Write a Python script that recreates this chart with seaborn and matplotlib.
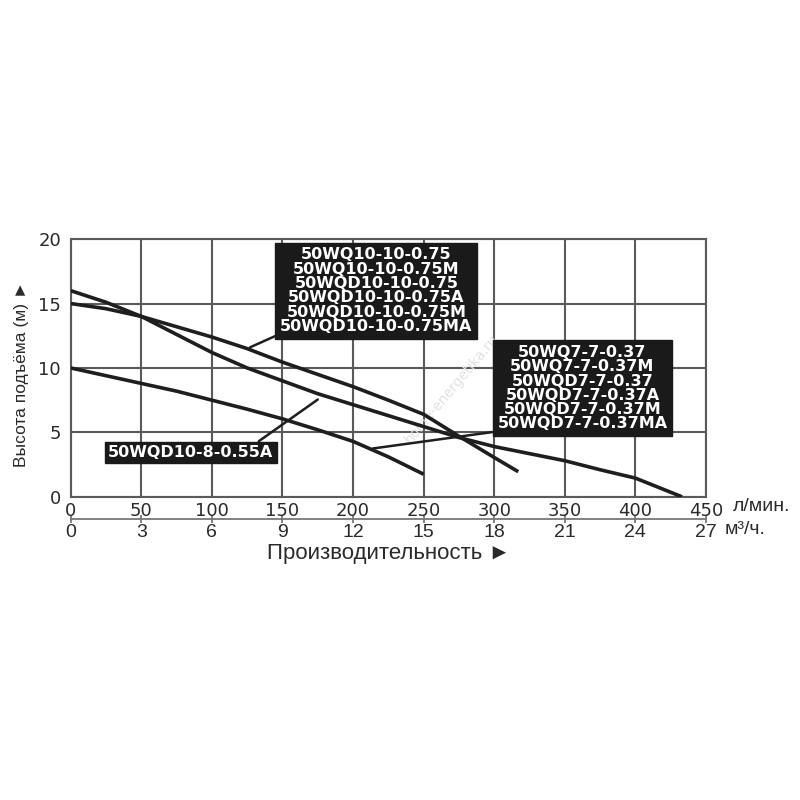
import matplotlib
matplotlib.use("Agg")
import matplotlib.pyplot as plt
from matplotlib import font_manager
import seaborn as sns
import pandas as pd

# flow in l/min, head in m
flow_a = [0, 25, 50, 75, 100, 125, 150, 175, 200, 225, 250, 275, 300, 317]
head_a = [15.0, 14.6, 14.0, 13.2, 12.4, 11.5, 10.45, 9.5, 8.55, 7.5, 6.4, 4.7, 3.05, 1.95]

flow_b = [0, 25, 50, 75, 100, 125, 150, 175, 200, 225, 250, 275, 300, 325, 350, 375, 400, 433]
head_b = [16.0, 15.1, 14.0, 12.6, 11.2, 10.0, 9.0, 8.0, 7.15, 6.3, 5.45, 4.6, 3.9, 3.35, 2.8, 2.1, 1.45, 0.0]

flow_c = [0, 25, 50, 75, 100, 125, 150, 175, 200, 225, 250]
head_c = [10.0, 9.4, 8.8, 8.2, 7.5, 6.8, 6.05, 5.2, 4.3, 3.1, 1.75]

models_a = ["50WQ10-10-0.75", "50WQ10-10-0.75M", "50WQD10-10-0.75",
            "50WQD10-10-0.75A", "50WQD10-10-0.75M", "50WQD10-10-0.75MA"]
models_b = ["50WQD10-8-0.55A"]
models_c = ["50WQ7-7-0.37", "50WQ7-7-0.37M", "50WQD7-7-0.37",
            "50WQD7-7-0.37A", "50WQD7-7-0.37M", "50WQD7-7-0.37MA"]

x_ticks = list(range(0, 451, 50))
y_ticks = list(range(0, 21, 5))
m3_ticks = list(range(0, 28, 3))

sns.set_theme(style="white")
installed = {f.name for f in font_manager.fontManager.ttflist}
narrow = "Liberation Sans Narrow" if "Liberation Sans Narrow" in installed else "Liberation Sans"
plt.rcParams["font.family"] = ["DejaVu Sans"]
arial = ["Liberation Sans", "DejaVu Sans"]

fig = plt.figure(figsize=(8, 8), dpi=100)
ax = fig.add_axes([0.0884, 0.379, 0.7941, 0.3221])

line_col = "#1e1e1e"
grid_col = "#5a5a5a"
text_col = "#2a2a2a"

for fl, hd in [(flow_a, head_a), (flow_b, head_b), (flow_c, head_c)]:
    df = pd.DataFrame({"flow": fl, "head": hd})
    sns.lineplot(data=df, x="flow", y="head", color=line_col, lw=2.6, ax=ax,
                 solid_capstyle="butt", zorder=4)

ax.set_xlim(0, 450)
ax.set_ylim(0, 20)
ax.set_xticks(x_ticks)
ax.set_yticks(y_ticks)
ax.grid(True, color=grid_col, lw=1.5)
for s in ax.spines.values():
    s.set_visible(True)
    s.set_color(grid_col)
    s.set_linewidth(1.5)
ax.tick_params(axis="both", length=0, labelsize=13, labelcolor=text_col)
ax.tick_params(axis="x", pad=4)
ax.tick_params(axis="y", pad=7)

# second scale: m3/h under the l/min scale
sec = ax.secondary_xaxis(-0.0854, functions=(lambda x: x * 0.06, lambda v: v / 0.06))
sec.set_xticks(m3_ticks)
sec.spines["bottom"].set_color("#777777")
sec.spines["bottom"].set_linewidth(1.3)
sec.tick_params(axis="x", direction="inout", length=6, width=1.3, color="#777777",
                labelsize=14, labelcolor=text_col, pad=1)
for lab in sec.get_xticklabels():
    lab.set_fontfamily(arial)

ax.text(1.042, -0.039, "л/мин.", transform=ax.transAxes, ha="left", va="center",
        fontsize=14, color=text_col, family=arial)
ax.text(1.03, -0.125, "м³/ч.", transform=ax.transAxes, ha="left", va="center",
        fontsize=14, color=text_col, family=arial)

ax.set_xlabel("Производительность ►", fontsize=16, color=text_col, family=arial)
ax.xaxis.set_label_coords(0.5, -0.18)
ax.set_ylabel("Высота подъёма (м) ►", fontsize=12.5, color=text_col,
              family=[narrow, "DejaVu Sans"])
ax.yaxis.set_label_coords(-0.066, 0.478)

# model boxes with leader lines
box = dict(boxstyle="square,pad=0.3", fc="#1a1a1a", ec="#1a1a1a")
tkw = dict(color="white", fontsize=11.5, fontweight="bold", ha="center", va="center",
           linespacing=0.94, zorder=6)
lead = dict(arrowstyle="-", color=line_col, lw=1.8, shrinkA=0, shrinkB=0)
ax.annotate("\n".join(models_a), xy=(127, 11.6), xytext=(216.5, 16.0), bbox=box,
            arrowprops=dict(lead, relpos=(0.0, 0.0)), **tkw)
ax.annotate("\n".join(models_c), xy=(214, 3.75), xytext=(362.5, 8.43), bbox=box,
            arrowprops=dict(lead, relpos=(0.0, 0.0)), **tkw)
ax.annotate("\n".join(models_b), xy=(175, 7.55), xytext=(85, 3.44),
            bbox=dict(box, boxstyle="square,pad=0.2"),
            arrowprops=dict(lead, relpos=(0.88, 1.0)), **tkw)

# faint watermark
ax.text(0.6, 0.42, "home-energetika.ru", transform=ax.transAxes, rotation=50,
        fontsize=10, color="#e2e2e2", ha="center", va="center", zorder=1)

fig.savefig("out.png", dpi=100, facecolor="white")
